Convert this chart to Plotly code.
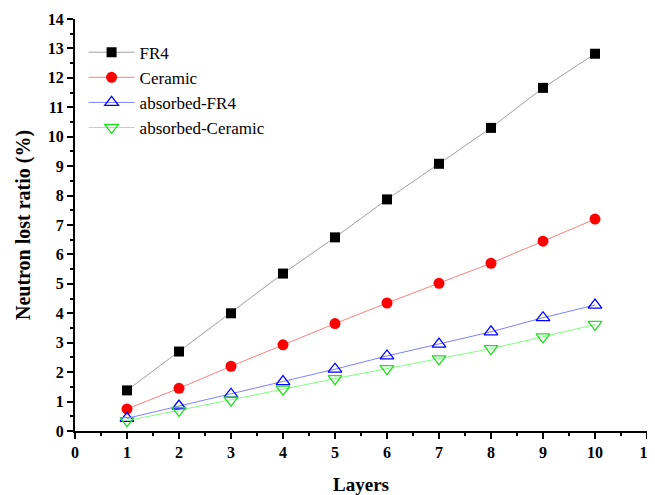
import plotly.graph_objects as go

layers = [1, 2, 3, 4, 5, 6, 7, 8, 9, 10]
fr4 = [1.38, 2.70, 4.00, 5.35, 6.58, 7.87, 9.08, 10.30, 11.66, 12.82]
ceramic = [0.75, 1.45, 2.20, 2.93, 3.65, 4.35, 5.02, 5.70, 6.45, 7.20]
abs_fr4 = [0.43, 0.85, 1.25, 1.68, 2.10, 2.55, 2.95, 3.37, 3.85, 4.28]
abs_ceramic = [0.35, 0.70, 1.05, 1.42, 1.78, 2.12, 2.45, 2.80, 3.20, 3.62]

series = [
    ("FR4", fr4, "#a0a0a0", dict(symbol="square", color="black", size=10)),
    ("Ceramic", ceramic, "#ff8080", dict(symbol="circle", color="red", size=11)),
    ("absorbed-FR4", abs_fr4, "#8080ff",
     dict(symbol="triangle-up-open", color="blue", size=12, line=dict(width=1.3))),
    ("absorbed-Ceramic", abs_ceramic, "#80ff80",
     dict(symbol="triangle-down-open", color="#22dd22", size=12, line=dict(width=1.3))),
]

fig = go.Figure()
for name, ys, lc, mk in series:
    fig.add_trace(go.Scatter(x=layers, y=ys, name=name, mode="lines+markers",
                             line=dict(color=lc, width=1), marker=mk))

font = "Liberation Serif, Times New Roman, serif"
axis_common = dict(
    showline=True, linecolor="black", linewidth=2, mirror=False,
    ticks="outside", ticklen=6, tickwidth=2, tickcolor="black",
    showgrid=False, zeroline=False, automargin=False,
    ticklabeloverflow="allow",
    tickfont=dict(family=font, size=16, color="black", weight="bold"),
    minor=dict(ticks="outside", ticklen=3, tickwidth=1.5, tickcolor="black", dtick=0.5),
)

fig.update_layout(
    width=655, height=487,
    margin=dict(l=67, r=16, t=11, b=64),
    plot_bgcolor="white", paper_bgcolor="white",
    font=dict(family=font, color="black"),
    xaxis=dict(range=[0, 11], dtick=1, tick0=0,
               title=dict(text="Layers", font=dict(family=font, size=19, color="black", weight="bold"), standoff=22),
               **axis_common),
    yaxis=dict(range=[0, 14], dtick=1, tick0=0,
               title=dict(text="Neutron lost ratio (%)", font=dict(family=font, size=20, color="black", weight="bold"), standoff=12),
               **axis_common),
    legend=dict(x=0.015, y=0.962, xanchor="left", yanchor="top",
                bgcolor="rgba(0,0,0,0)", borderwidth=0,
                font=dict(family=font, size=17, color="black"),
                tracegroupgap=0, itemwidth=46),
    showlegend=True,
)

fig.write_html("out.html")
